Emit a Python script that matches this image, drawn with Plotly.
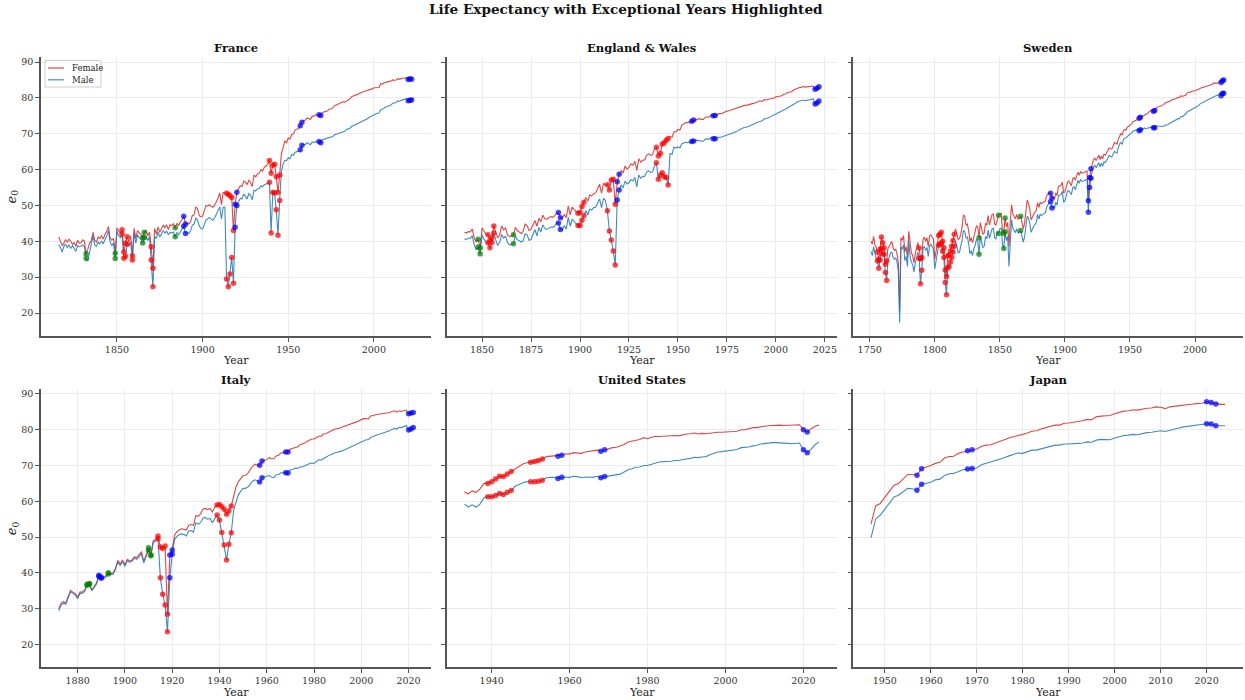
import plotly.graph_objects as go

FONT = "DejaVu Serif"

# ---------------- data (life expectancy at birth, e0) ----------------
FRANCE_START = 1816
FRANCE_F = [
    41.2, 40.0, 38.8, 39.5,
    40.5, 39.8, 40.6, 40.0, 39.2, 39.6, 38.6, 40.3, 39.5, 39.6,
    40.4, 40.0, 36.5, 37.8, 39.5, 40.2, 42.5, 40.3, 39.8, 41.2,
    40.8, 41.5, 40.6, 42.0, 42.8, 44.1, 41.0, 40.3, 40.8, 36.7,
    43.8, 42.9, 42.2, 43.2, 37.0, 39.5, 41.3, 39.8, 41.5, 36.0,
    43.6, 40.8, 43.0, 42.3, 42.0, 41.0, 42.5, 43.0, 41.5, 42.6,
    38.5, 32.5, 43.6, 42.0, 44.0, 42.5, 43.5, 44.5, 43.8, 44.6,
    43.3, 44.6, 44.4, 44.9, 43.8, 45.0, 44.3, 45.5, 46.0, 47.0,
    44.8, 45.2, 44.8, 45.5, 47.2, 47.3, 49.5, 49.2, 47.2, 46.8,
    47.0, 48.8, 50.0, 49.8, 50.2, 49.8, 49.5, 50.0, 51.0, 52.0,
    53.5, 50.2, 53.6, 53.5, 53.4, 53.1, 52.7, 52.2, 43.0, 50.3,
    53.7, 54.8, 55.5, 55.3, 56.8, 56.5, 55.8, 57.0, 56.4, 55.3,
    58.5, 58.0, 58.7, 59.0, 60.0, 59.6, 60.6, 61.0, 61.5, 62.5,
    59.0, 61.2, 61.5, 58.0, 53.7, 58.5, 64.5, 66.0, 68.0, 67.5,
    68.8, 68.5, 69.8, 69.9, 71.0, 71.3, 71.4, 72.2, 73.2, 73.6,
    73.8, 74.4, 74.1, 74.0, 74.9, 74.9, 75.3, 75.3, 75.3, 75.1,
    75.9, 76.1, 76.3, 76.4, 76.9, 76.9, 77.2, 77.8, 78.0, 78.2,
    78.4, 78.5, 78.9, 78.8, 79.2, 79.4, 79.7, 80.3, 80.5, 80.6,
    80.9, 81.1, 81.4, 81.5, 81.8, 81.9, 82.0, 82.3, 82.4, 82.5,
    82.8, 82.9, 83.0, 82.9, 84.0, 83.8, 84.2, 84.4, 84.4, 84.6,
    84.7, 85.0, 84.9, 85.0, 85.4, 85.1, 85.4, 85.4, 85.5, 85.6,
    85.1, 85.3, 85.2, 85.7,
]
FRANCE_M = [
    39.0, 38.3, 37.0, 38.6,
    39.2, 38.3, 39.0, 38.0, 38.8, 37.8, 37.2, 38.8, 38.5, 38.7,
    39.0, 38.5, 35.2, 34.5, 37.0, 38.8, 41.5, 39.0, 38.6, 39.8,
    39.3, 40.0, 39.3, 40.5, 41.5, 43.0, 39.8, 38.8, 39.5, 35.2,
    42.8, 41.6, 41.0, 42.0, 35.3, 35.8, 39.2, 38.8, 39.8, 34.8,
    42.5, 39.5, 41.8, 41.0, 40.8, 39.5, 41.0, 41.5, 40.2, 41.3,
    34.8, 27.3, 41.3, 40.8, 42.6, 41.2, 42.0, 43.0, 42.3, 42.8,
    41.8, 42.5, 42.3, 42.6, 41.3, 42.5, 41.8, 42.7, 43.2, 44.2,
    42.2, 42.5, 42.2, 43.0, 44.5, 44.8, 46.5, 46.0, 44.3, 43.6,
    43.4, 44.8, 46.0, 46.3, 46.6, 46.2, 45.8, 46.5, 47.5, 48.5,
    49.6, 46.2, 49.5, 49.5, 29.5, 27.3, 30.9, 35.5, 28.3, 43.9,
    50.0, 51.0, 52.0, 51.8, 53.2, 52.6, 51.8, 53.3, 52.8, 51.6,
    54.3, 54.0, 54.6, 54.7, 55.5, 55.2, 55.8, 56.0, 56.1, 56.5,
    42.3, 53.7, 53.5, 48.8, 41.7, 51.4, 59.5, 61.5, 62.6, 62.5,
    63.3, 63.0, 64.2, 64.0, 64.8, 65.0, 65.1, 65.5, 66.8, 67.0,
    67.0, 67.5, 67.1, 66.9, 67.7, 67.5, 67.8, 67.8, 67.8, 67.5,
    68.4, 68.5, 68.6, 68.7, 69.0, 69.0, 69.2, 69.7, 69.9, 70.1,
    70.2, 70.4, 70.7, 70.7, 71.2, 71.3, 71.5, 72.0, 72.3, 72.5,
    72.7, 72.9, 73.2, 73.3, 73.7, 73.9, 74.1, 74.6, 74.8, 75.0,
    75.3, 75.5, 75.7, 75.8, 76.7, 76.8, 77.2, 77.5, 77.6, 77.8,
    78.0, 78.5, 78.5, 78.7, 79.2, 79.0, 79.3, 79.5, 79.6, 79.8,
    79.2, 79.3, 79.4, 80.0,
]
FRANCE_RED = [1853, 1854, 1855, 1856, 1859, 1870, 1871, 1914, 1915, 1916, 1917, 1918,
              1939, 1940, 1941, 1942, 1943, 1944, 1945]
FRANCE_BLUE = [1889, 1890, 1919, 1920, 1957, 1958, 1968, 1969, 2020, 2021, 2022]
FRANCE_GREEN = [1832, 1849, 1865, 1866, 1884]

EW_START = 1841
EW_F = [
    42.5, 42.3, 42.7, 42.6, 43.4, 41.0, 39.8, 40.6, 38.1,
    43.8, 42.8, 42.0, 41.8, 40.2, 41.0, 44.3, 42.5, 40.9, 41.8,
    44.3, 43.2, 43.7, 41.8, 41.3, 41.5, 41.8, 43.9, 43.0, 42.6,
    42.2, 42.8, 44.8, 44.3, 43.0, 43.3, 44.8, 45.8, 44.2, 46.4,
    45.4, 47.3, 46.3, 46.2, 46.5, 46.9, 46.7, 47.1, 47.9, 48.0,
    46.6, 46.4, 47.5, 46.6, 49.8, 47.4, 49.5, 48.8, 48.3, 47.8,
    48.0, 49.7, 50.9, 52.2, 51.2, 52.9, 52.7, 53.3, 53.5, 54.6,
    55.9, 53.4, 56.2, 55.6, 55.8, 54.3, 57.1, 57.3, 50.3, 56.6,
    58.7, 59.7, 59.0, 61.0, 60.2, 60.6, 61.6, 61.2, 62.3, 59.8,
    63.0, 62.1, 62.6, 62.7, 64.0, 64.4, 64.0, 64.1, 65.6, 66.2,
    63.8, 64.5, 67.1, 67.5, 68.2, 68.7, 69.2, 69.0, 70.6, 70.5,
    71.2, 71.0, 72.4, 72.7, 73.1, 73.1, 73.3, 73.5, 73.8, 73.9,
    74.1, 74.2, 74.0, 74.0, 74.6, 74.7, 74.7, 75.2, 75.0, 75.1,
    75.4, 75.6, 75.6, 75.9, 76.1, 76.3, 76.4, 76.6, 76.7, 76.8,
    77.0, 77.3, 77.5, 77.6, 77.9, 77.9, 78.1, 78.4, 78.4, 78.5,
    78.8, 78.9, 79.2, 79.0, 79.5, 79.4, 79.6, 79.8, 79.9, 79.9,
    80.3, 80.4, 80.5, 80.6, 81.0, 81.1, 81.5, 81.6, 81.7, 82.2,
    82.5, 82.8, 82.9, 82.9, 83.2, 83.0, 83.1, 83.1, 83.1, 83.3,
    82.4, 82.7, 83.1,
]
EW_M = [
    40.6, 40.5, 40.9, 40.8, 41.6, 39.0, 37.6, 38.4, 36.5,
    41.8, 40.6, 39.8, 39.6, 38.2, 39.7, 42.3, 40.4, 38.8, 39.8,
    41.9, 40.9, 41.4, 39.6, 39.0, 39.2, 39.3, 41.5, 40.4, 40.2,
    39.8, 40.2, 42.1, 41.8, 40.3, 40.5, 42.2, 43.3, 41.5, 43.9,
    42.6, 44.6, 43.6, 43.3, 43.6, 44.0, 43.9, 44.2, 45.1, 45.1,
    43.3, 43.2, 44.4, 43.4, 46.7, 44.2, 46.2, 45.4, 44.9, 44.4,
    44.4, 45.9, 47.1, 48.5, 47.4, 49.0, 48.7, 49.4, 49.5, 50.8,
    51.8, 49.4, 52.0, 51.4, 48.5, 42.9, 40.4, 37.3, 33.4, 51.5,
    54.3, 55.7, 54.9, 56.8, 56.0, 56.3, 57.2, 56.8, 57.8, 55.2,
    58.5, 57.6, 58.1, 58.1, 59.3, 59.7, 59.2, 59.3, 61.0, 61.9,
    57.3, 58.5, 59.1, 58.0, 57.8, 55.7, 64.5, 64.3, 66.3, 66.0,
    66.3, 66.0, 67.2, 67.4, 67.6, 67.5, 67.6, 67.8, 68.0, 68.1,
    68.2, 68.0, 67.9, 67.9, 68.5, 68.5, 68.5, 68.9, 68.6, 68.6,
    68.9, 69.0, 69.0, 69.2, 69.4, 69.6, 69.7, 70.0, 70.2, 70.3,
    70.6, 71.0, 71.3, 71.5, 71.8, 71.8, 72.0, 72.4, 72.5, 72.7,
    73.0, 73.3, 73.5, 73.6, 74.1, 74.2, 74.4, 74.7, 74.9, 75.1,
    75.5, 75.8, 76.0, 76.2, 76.6, 76.9, 77.2, 77.5, 77.7, 78.2,
    78.5, 78.9, 79.1, 79.1, 79.4, 79.2, 79.3, 79.4, 79.4, 79.7,
    78.3, 78.6, 79.1,
]
EW_RED = [1853, 1854, 1855, 1856, 1899, 1900, 1901, 1902, 1914, 1915, 1916, 1917, 1918,
          1939, 1940, 1941, 1942, 1943, 1944, 1945]
EW_BLUE = [1889, 1890, 1919, 1920, 1957, 1958, 1968, 1969, 2020, 2021, 2022]
EW_GREEN = [1848, 1849, 1866]

SWEDEN_START = 1751
SWEDEN_F = [
    40.0, 39.2, 41.3, 39.0, 38.3, 37.0, 35.0, 37.8, 41.2,
    39.6, 38.2, 33.6, 34.5, 38.0, 38.6, 39.5, 40.0, 38.2, 37.5,
    37.8, 36.5, 34.0, 20.5, 41.0, 40.3, 41.6, 37.0, 38.5, 35.5,
    42.8, 38.6, 36.8, 36.0, 34.0, 36.5, 38.0, 39.6, 38.1, 35.1,
    35.5, 40.5, 41.2, 40.0, 41.0, 38.5, 41.5, 41.8, 41.2, 40.5,
    35.0, 37.5, 40.0, 41.6, 42.0, 42.5, 40.0, 38.2, 32.0, 30.2,
    36.0, 36.2, 37.3, 38.6, 40.2, 42.0, 43.5, 42.0, 40.5, 40.8,
    42.0, 44.0, 47.3, 47.0, 44.5, 44.8, 43.0, 40.0, 41.0, 39.6,
    41.5, 42.5, 44.3, 44.0, 41.0, 45.2, 43.5, 42.0, 42.3, 45.0,
    44.5, 47.2, 44.6, 46.0, 47.5, 47.6, 44.8, 44.6, 46.5, 47.3,
    47.6, 47.8, 43.0, 42.2, 46.5, 44.0, 45.3, 38.5, 45.5, 50.2,
    47.6, 47.0, 46.3, 47.5, 46.2, 46.5, 47.0, 45.3, 43.5, 45.0,
    48.0, 51.5, 50.5, 49.0, 46.0, 47.0, 47.5, 48.2, 48.5, 50.8,
    49.5, 50.8, 50.5, 50.8, 51.0, 51.2, 52.8, 53.2, 53.6, 53.4,
    52.0, 52.3, 51.8, 53.5, 52.8, 55.3, 55.5, 55.6, 56.5, 53.5,
    53.8, 55.0, 56.5, 56.8, 56.2, 55.5, 57.5, 57.8, 57.0, 58.6,
    59.3, 58.4, 59.5, 59.0, 59.0, 59.2, 59.5, 59.6, 51.3, 57.8,
    60.2, 62.0, 62.8, 63.2, 62.5, 63.3, 64.0, 62.8, 63.8, 63.0,
    64.3, 64.0, 64.5, 65.3, 66.0, 65.8, 65.7, 66.5, 67.5, 67.4,
    67.0, 68.5, 69.5, 70.0, 69.7, 70.9, 71.2, 71.0, 71.9, 72.0,
    72.4, 72.6, 73.3, 73.4, 73.7, 73.8, 74.0, 74.3, 74.6, 74.8,
    74.9, 75.3, 75.4, 75.5, 75.8, 76.1, 76.5, 76.5, 76.3, 76.5,
    77.1, 77.4, 77.5, 77.7, 77.9, 78.1, 78.1, 78.6, 78.7, 78.8,
    78.8, 79.1, 79.4, 79.6, 79.7, 79.7, 80.0, 80.2, 80.0, 80.6,
    80.4, 80.5, 80.8, 80.8, 81.4, 81.6, 81.5, 81.8, 81.9, 81.9,
    82.0, 82.1, 82.1, 82.4, 82.7, 82.8, 82.9, 83.0, 83.1, 83.3,
    83.5, 83.6, 83.5, 83.7, 84.1, 84.0, 84.1, 84.1, 84.1, 84.7,
    84.3, 84.8, 85.0, 85.2,
]
SWEDEN_M = [
    37.2, 36.0, 38.5, 36.5, 35.0, 34.5, 32.5, 34.8, 38.0,
    36.5, 36.4, 31.3, 29.1, 34.5, 35.8, 36.8, 37.0, 35.5, 35.0,
    35.4, 34.2, 31.5, 17.3, 38.4, 37.8, 39.0, 34.6, 35.8, 33.0,
    40.2, 36.0, 34.2, 33.5, 31.5, 33.8, 35.5, 37.0, 35.3, 28.2,
    31.9, 38.0, 38.6, 37.4, 38.3, 35.8, 38.8, 39.2, 38.5, 37.8,
    32.3, 35.0, 37.4, 38.9, 39.2, 39.5, 37.2, 35.5, 28.5, 25.1,
    32.6, 33.0, 34.2, 35.5, 37.0, 38.6, 40.0, 38.5, 36.8, 37.0,
    38.5, 40.3, 43.0, 42.8, 41.0, 41.2, 39.5, 36.5, 37.4, 36.0,
    38.0, 38.8, 40.5, 40.2, 36.4, 41.3, 39.8, 38.3, 38.6, 41.3,
    40.7, 43.2, 40.8, 42.1, 43.5, 43.7, 41.0, 40.7, 42.5, 42.2,
    43.5, 43.7, 39.3, 38.0, 42.7, 40.2, 41.4, 33.0, 41.6, 46.0,
    43.6, 43.0, 42.4, 43.5, 42.3, 42.6, 43.0, 41.4, 39.8, 41.2,
    44.0, 47.0, 46.5, 45.2, 42.5, 43.5, 44.2, 44.8, 45.2, 47.5,
    46.2, 47.6, 47.2, 47.5, 47.8, 48.0, 49.6, 50.3, 50.8, 51.0,
    49.3, 49.6, 49.2, 50.9, 50.1, 52.7, 52.9, 53.0, 53.9, 51.0,
    51.2, 52.4, 54.0, 54.2, 53.6, 53.0, 55.0, 55.2, 54.4, 56.2,
    57.0, 56.2, 57.2, 56.8, 56.8, 56.9, 57.2, 57.2, 48.1, 55.0,
    57.6, 59.8, 60.7, 61.2, 60.5, 61.2, 61.9, 60.8, 61.8, 60.9,
    62.2, 61.9, 62.4, 63.2, 63.9, 63.6, 63.5, 64.2, 65.1, 64.8,
    64.6, 66.1, 67.2, 67.6, 67.0, 68.4, 68.8, 68.8, 69.4, 69.6,
    69.9, 70.1, 70.6, 70.8, 71.0, 71.1, 71.2, 70.8, 71.1, 71.5,
    71.2, 71.6, 71.4, 71.5, 71.7, 71.6, 71.9, 71.9, 71.7, 71.7,
    72.2, 72.1, 72.0, 72.1, 72.0, 72.1, 72.1, 72.4, 72.4, 72.5,
    72.8, 73.0, 73.4, 73.6, 73.8, 73.8, 74.0, 74.2, 74.2, 74.8,
    74.8, 74.9, 75.4, 75.5, 76.1, 76.2, 76.5, 76.7, 76.9, 77.0,
    77.4, 77.6, 77.7, 77.9, 78.4, 78.5, 78.7, 78.9, 79.1, 79.3,
    79.5, 79.8, 79.9, 80.1, 80.3, 80.4, 80.6, 80.7, 80.8, 81.3,
    80.6, 81.2, 81.3, 81.8,
]
SWEDEN_RED = [1756, 1757, 1758, 1759, 1760, 1761, 1762, 1763, 1788, 1789, 1790,
              1803, 1804, 1805, 1806, 1807, 1808, 1809, 1810, 1811, 1812, 1813, 1814, 1815]
SWEDEN_BLUE = [1889, 1890, 1918, 1919, 1920, 1957, 1958, 1968, 1969, 2020, 2021, 2022]
SWEDEN_GREEN = [1834, 1849, 1853, 1854, 1866]

ITALY_START = 1872
ITALY_F = [
    30.0, 31.5, 32.0, 31.6, 33.5, 35.1, 34.6, 34.2,
    33.2, 34.6, 34.6, 35.2, 36.8, 37.0, 35.2, 36.2, 37.2, 39.3,
    38.8, 38.7, 39.2, 40.0, 39.8, 40.0, 41.2, 43.5, 42.5, 43.6,
    42.2, 43.8, 43.3, 43.6, 44.5, 44.2, 45.2, 45.8, 43.2, 45.0,
    47.0, 45.0, 49.0, 49.3, 50.3, 47.2, 46.8, 47.5, 28.4, 45.0,
    46.4, 50.5, 51.5, 52.0, 52.3, 52.2, 51.9, 53.3, 53.5, 53.3,
    56.0, 55.8, 56.5, 57.8, 58.0, 57.7, 58.0, 57.0, 58.3, 59.0,
    59.1, 58.5, 57.8, 56.4, 57.3, 58.7, 61.5, 64.0, 65.5, 66.2,
    67.2, 67.3, 67.8, 68.8, 69.8, 70.4, 70.1, 70.1, 71.3, 71.5,
    71.6, 72.2, 71.9, 71.9, 72.7, 72.9, 73.5, 73.6, 73.8, 73.8,
    74.6, 74.8, 75.2, 75.2, 75.8, 75.9, 76.2, 76.7, 77.0, 77.4,
    77.4, 77.8, 78.2, 78.2, 78.8, 78.9, 79.3, 79.7, 79.9, 80.2,
    80.3, 80.5, 80.8, 81.0, 81.3, 81.5, 81.8, 82.0, 82.2, 82.5,
    82.9, 83.1, 83.1, 83.0, 83.9, 83.9, 84.2, 84.3, 84.3, 84.5,
    84.7, 84.8, 84.8, 85.1, 85.3, 84.9, 85.3, 85.1, 85.4, 85.5,
    84.5, 84.7, 84.8,
]
ITALY_M = [
    29.4, 31.0, 31.5, 31.2, 33.0, 34.7, 34.3, 33.8,
    32.8, 34.2, 34.3, 34.8, 36.5, 36.8, 35.0, 35.9, 36.9, 39.0,
    38.5, 38.4, 38.9, 39.7, 39.5, 39.6, 40.9, 43.1, 42.0, 43.2,
    41.8, 43.4, 42.9, 43.2, 44.1, 43.8, 44.7, 45.3, 42.8, 44.5,
    46.3, 44.8, 48.5, 48.8, 49.5, 38.6, 34.0, 31.0, 23.5, 38.6,
    45.2, 49.3, 50.2, 50.7, 50.9, 50.7, 50.3, 51.7, 51.8, 51.4,
    54.0, 53.6, 54.1, 55.3, 55.5, 55.0, 55.2, 54.0, 55.0, 56.2,
    54.8, 51.3, 47.8, 43.6, 48.0, 51.2, 57.5, 60.0, 61.8, 62.8,
    63.6, 63.6, 64.0, 64.8, 65.6, 66.0, 65.6, 65.4, 66.6, 66.8,
    66.9, 67.2, 66.8, 66.6, 67.4, 67.5, 68.0, 68.1, 68.0, 67.9,
    68.8, 68.9, 69.3, 69.2, 69.6, 69.6, 69.8, 70.2, 70.5, 70.7,
    70.6, 71.1, 71.6, 71.5, 72.0, 72.3, 72.7, 73.1, 73.3, 73.6,
    73.7, 73.8, 74.1, 74.4, 74.7, 74.9, 75.3, 75.6, 75.8, 76.2,
    76.6, 76.9, 77.2, 77.2, 77.9, 78.1, 78.5, 78.7, 78.8, 79.0,
    79.4, 79.6, 79.7, 80.1, 80.4, 80.2, 80.7, 80.6, 80.9, 81.2,
    79.9, 80.2, 80.6,
]
ITALY_RED = [1914, 1915, 1916, 1917, 1918, 1939, 1940, 1941, 1942, 1943, 1944, 1945]
ITALY_BLUE = [1889, 1890, 1919, 1920, 1957, 1958, 1968, 1969, 2020, 2021, 2022]
ITALY_GREEN = [1884, 1885, 1893, 1910, 1911]

US_START = 1933
US_F = [
    62.6, 62.1, 62.9, 62.5, 63.5, 65.0, 65.0,
    65.5, 66.2, 67.0, 66.9, 67.6, 68.3, 69.2, 69.8, 70.4, 70.8,
    70.9, 71.1, 71.4, 71.8, 72.5, 72.6, 72.6, 72.6, 72.9, 73.3,
    73.2, 73.6, 73.4, 73.4, 73.8, 73.9, 74.0, 74.3, 74.0, 74.4,
    74.8, 75.0, 75.1, 75.4, 75.9, 76.6, 76.8, 77.2, 77.3, 77.8,
    77.5, 77.9, 78.2, 78.1, 78.2, 78.2, 78.3, 78.4, 78.3, 78.6,
    78.8, 78.9, 79.1, 78.8, 79.0, 78.9, 79.1, 79.2, 79.3, 79.3,
    79.3, 79.4, 79.5, 79.6, 80.0, 80.0, 80.3, 80.6, 80.6, 80.9,
    81.0, 81.1, 81.2, 81.2, 81.3, 81.2, 81.2, 81.2, 81.3, 81.4,
    80.0, 79.4, 80.3, 81.0, 81.3,
]
US_M = [
    59.2, 58.4, 59.0, 58.4, 59.2, 61.0, 61.3,
    61.3, 61.6, 62.2, 61.9, 62.5, 63.0, 64.2, 64.8, 65.2, 65.5,
    65.5, 65.5, 65.6, 65.9, 66.6, 66.7, 66.7, 66.4, 66.7, 66.8,
    66.7, 67.0, 66.9, 66.6, 66.8, 66.8, 66.7, 67.0, 66.6, 66.9,
    67.1, 67.4, 67.4, 67.6, 68.2, 68.8, 69.1, 69.5, 69.6, 70.0,
    70.0, 70.4, 70.8, 71.0, 71.1, 71.1, 71.2, 71.4, 71.4, 71.7,
    71.8, 72.0, 72.3, 72.2, 72.4, 72.5, 73.0, 73.5, 73.8, 73.9,
    74.1, 74.3, 74.4, 74.5, 75.0, 75.0, 75.2, 75.5, 75.6, 76.0,
    76.2, 76.3, 76.4, 76.4, 76.4, 76.3, 76.2, 76.1, 76.2, 76.3,
    74.4, 73.6, 74.6, 75.8, 76.6,
]
US_RED = [1939, 1940, 1941, 1942, 1943, 1944, 1945, 1950, 1951, 1952, 1953]
US_BLUE = [1957, 1958, 1968, 1969, 2020, 2021]
US_GREEN = []

JAPAN_START = 1947
JAPAN_F = [
    53.6, 58.7, 59.4,
    61.2, 62.8, 64.5, 65.0, 66.2, 67.5, 67.5, 67.3, 69.1, 69.5,
    70.0, 70.6, 70.9, 72.1, 72.5, 72.6, 73.4, 73.8, 74.1, 74.4,
    74.6, 75.3, 75.7, 75.8, 76.2, 76.8, 77.2, 77.7, 78.0, 78.5,
    78.7, 79.1, 79.6, 79.7, 80.2, 80.5, 80.9, 81.3, 81.3, 81.8,
    81.9, 82.2, 82.3, 82.5, 82.9, 82.8, 83.6, 83.8, 84.0, 84.0,
    84.5, 84.9, 85.2, 85.3, 85.6, 85.5, 85.8, 86.0, 86.1, 86.4,
    86.3, 85.9, 86.4, 86.6, 86.8, 87.0, 87.1, 87.2, 87.3, 87.4,
    87.8, 87.6, 87.2, 87.1, 87.1,
]
JAPAN_M = [
    49.8, 55.0, 56.1,
    57.8, 59.5, 61.2, 61.7, 62.6, 63.6, 63.5, 63.1, 64.8, 65.0,
    65.3, 66.0, 66.2, 67.2, 67.7, 67.8, 68.4, 68.8, 69.0, 69.2,
    69.3, 70.2, 70.6, 70.8, 71.2, 71.8, 72.2, 72.7, 73.0, 73.5,
    73.4, 73.8, 74.3, 74.3, 74.6, 74.9, 75.3, 75.7, 75.7, 76.0,
    76.0, 76.2, 76.2, 76.3, 76.6, 76.5, 77.1, 77.3, 77.3, 77.2,
    77.7, 78.1, 78.4, 78.5, 78.7, 78.6, 79.0, 79.2, 79.3, 79.6,
    79.7, 79.5, 79.9, 80.2, 80.5, 80.8, 81.0, 81.1, 81.3, 81.4,
    81.7, 81.6, 81.1, 81.1, 81.1,
]
JAPAN_RED = []
JAPAN_BLUE = [1957, 1958, 1968, 1969, 2020, 2021, 2022]
JAPAN_GREEN = []

X_TICKS = {
    "France": [1850, 1900, 1950, 2000],
    "England & Wales": [1850, 1875, 1900, 1925, 1950, 1975, 2000, 2025],
    "Sweden": [1750, 1800, 1850, 1900, 1950, 2000],
    "Italy": [1880, 1900, 1920, 1940, 1960, 1980, 2000, 2020],
    "United States": [1940, 1960, 1980, 2000, 2020],
    "Japan": [1950, 1960, 1970, 1980, 1990, 2000, 2010, 2020],
}
Y_TICKS = [20, 30, 40, 50, 60, 70, 80, 90]
LEGEND_LABELS = ["Female", "Male"]

COUNTRIES = [
    ("France", FRANCE_START, FRANCE_F, FRANCE_M, FRANCE_RED, FRANCE_BLUE, FRANCE_GREEN),
    ("England & Wales", EW_START, EW_F, EW_M, EW_RED, EW_BLUE, EW_GREEN),
    ("Sweden", SWEDEN_START, SWEDEN_F, SWEDEN_M, SWEDEN_RED, SWEDEN_BLUE, SWEDEN_GREEN),
    ("Italy", ITALY_START, ITALY_F, ITALY_M, ITALY_RED, ITALY_BLUE, ITALY_GREEN),
    ("United States", US_START, US_F, US_M, US_RED, US_BLUE, US_GREEN),
    ("Japan", JAPAN_START, JAPAN_F, JAPAN_M, JAPAN_RED, JAPAN_BLUE, JAPAN_GREEN),
]

# ---------------- styling / layout ----------------
W, H = 1245, 700
F_COLOR = "rgba(214,39,40,0.85)"
M_COLOR = "rgba(31,119,180,0.85)"
MARK_COLORS = {"red": "rgba(255,0,0,0.72)", "blue": "rgba(0,0,255,0.72)", "green": "rgba(0,128,0,0.72)"}
AX_COLOR = "#555555"
GRID = "#ebebeb"

COL_PX = [(41, 431), (446.7, 836.7), (853.3, 1242.7)]
ROW_PX = [(57.3, 335.7), (389.3, 667.0)]
Y_RANGE = [13.68, 91.31]

fig = go.Figure()
annotations = []
shapes = []

for i, (name, start, fvals, mvals, red, blue, green) in enumerate(COUNTRIES):
    r, c = divmod(i, 3)
    idx = "" if i == 0 else str(i + 1)
    xa, ya = "x" + idx, "y" + idx
    fy = list(range(start, start + len(fvals)))
    my = list(range(start, start + len(mvals)))
    first, last = min(fy[0], my[0]), max(fy[-1], my[-1])
    pad = (last - first) * 0.05

    fig.add_trace(go.Scatter(x=fy, y=fvals, mode="lines", name="Female",
                             line=dict(color=F_COLOR, width=1.1), xaxis=xa, yaxis=ya,
                             showlegend=False))
    fig.add_trace(go.Scatter(x=my, y=mvals, mode="lines", name="Male",
                             line=dict(color=M_COLOR, width=1.1), xaxis=xa, yaxis=ya,
                             showlegend=False))
    for cname, years in (("green", green), ("red", red), ("blue", blue)):
        px, py = [], []
        for yr in years:
            for yrs, vals in ((fy, fvals), (my, mvals)):
                if yr in yrs:
                    px.append(yr)
                    py.append(vals[yrs.index(yr)])
        if px:
            fig.add_trace(go.Scatter(x=px, y=py, mode="markers", showlegend=False,
                                     marker=dict(color=MARK_COLORS[cname], size=5.5, line=dict(width=0)),
                                     xaxis=xa, yaxis=ya, hoverinfo="skip"))

    x0, x1 = COL_PX[c]
    y0, y1 = ROW_PX[r]
    xdom = [x0 / W, x1 / W]
    ydom = [1 - y1 / H, 1 - y0 / H]
    common = dict(showline=True, linecolor=AX_COLOR, linewidth=1.6, ticks="outside",
                  ticklen=4, tickwidth=1.2, tickcolor=AX_COLOR, showgrid=True,
                  gridcolor=GRID, gridwidth=1, zeroline=False, automargin=False,
                  tickfont=dict(family=FONT, size=9.5, color="#333333"))
    fig.layout["xaxis" + idx] = dict(domain=xdom, anchor=ya, range=[first - pad, last + pad],
                                     tickmode="array", tickvals=X_TICKS[name],
                                     ticktext=[str(v) for v in X_TICKS[name]], **common)
    fig.layout["yaxis" + idx] = dict(domain=ydom, anchor=xa, range=Y_RANGE,
                                     tickmode="array", tickvals=Y_TICKS,
                                     showticklabels=(c == 0), **common)

    cx = (x0 + x1) / 2 / W
    annotations.append(dict(text="<b>%s</b>" % name, x=cx, y=1 - (y0 - 9) / H,
                            xref="paper", yref="paper", showarrow=False,
                            xanchor="center", yanchor="middle",
                            font=dict(family=FONT, size=11.5, color="#111111")))
    annotations.append(dict(text="Year", x=cx, y=1 - (y1 + 25) / H,
                            xref="paper", yref="paper", showarrow=False,
                            xanchor="center", yanchor="middle",
                            font=dict(family=FONT, size=11, color="#222222")))
    if c == 0:
        annotations.append(dict(text="<i>e</i><sub>0</sub>", x=12 / W, y=1 - (y0 + y1) / 2 / H,
                                xref="paper", yref="paper", showarrow=False, textangle=-90,
                                xanchor="center", yanchor="middle",
                                font=dict(family=FONT, size=13, color="#222222")))

# title
annotations.append(dict(text="<b>Life Expectancy with Exceptional Years Highlighted</b>",
                        x=626 / W, y=1 - 9 / H, xref="paper", yref="paper", showarrow=False,
                        xanchor="center", yanchor="middle",
                        font=dict(family=FONT, size=13.6, color="#111111")))

# compact legend (matplotlib-like) inside the France panel
shapes.append(dict(type="rect", xref="paper", yref="paper",
                   x0=45 / W, x1=101 / W, y0=1 - 87 / H, y1=1 - 60.5 / H,
                   line=dict(color="#cccccc", width=1), fillcolor="rgba(255,255,255,0.85)",
                   layer="above"))
for k, (lab, col) in enumerate(zip(LEGEND_LABELS, [F_COLOR, M_COLOR])):
    ypx = 68 + 11.8 * k
    shapes.append(dict(type="line", xref="paper", yref="paper",
                       x0=48 / W, x1=64 / W, y0=1 - ypx / H, y1=1 - ypx / H,
                       line=dict(color=col, width=1.2), layer="above"))
    annotations.append(dict(text=lab, x=70 / W, y=1 - ypx / H, xref="paper", yref="paper",
                            showarrow=False, xanchor="left", yanchor="middle",
                            font=dict(family=FONT, size=8.5, color="#222222")))

fig.update_layout(
    width=W, height=H, margin=dict(l=0, r=0, t=0, b=0),
    paper_bgcolor="white", plot_bgcolor="white",
    font=dict(family=FONT, size=10, color="#222222"),
    annotations=annotations, shapes=shapes,
    showlegend=False,
)

fig.write_html("out.html")
